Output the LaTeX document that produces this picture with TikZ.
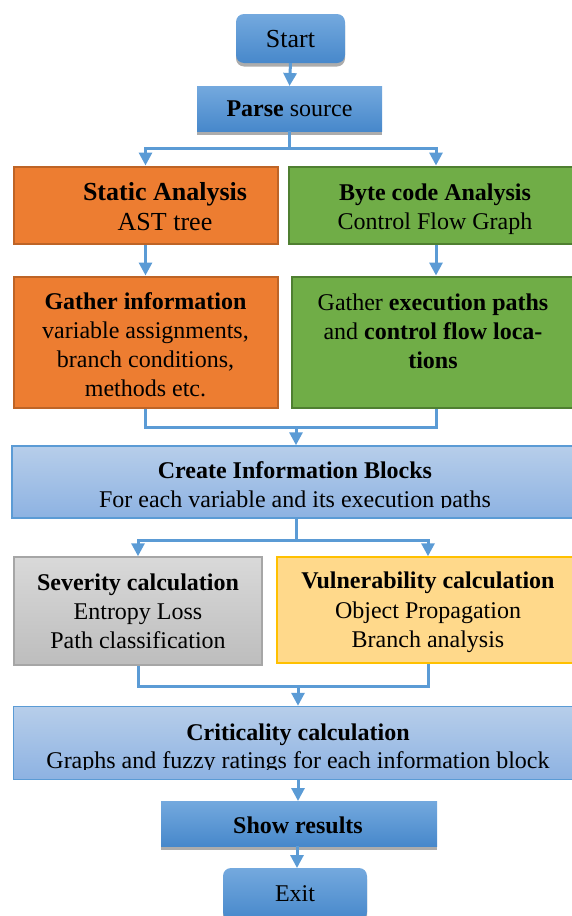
\documentclass[tikz,border=0pt]{standalone}
\usepackage{fontspec}
\setmainfont{Liberation Serif}
\usetikzlibrary{arrows.meta,shadows,calc}
\definecolor{arrblue}{HTML}{5B9BD5}
\definecolor{btop}{HTML}{74A9DE}
\definecolor{bbot}{HTML}{4788CB}
\definecolor{ltop}{HTML}{B7CEEA}
\definecolor{lbot}{HTML}{8DB2E2}
\definecolor{orfill}{HTML}{ED7D31}
\definecolor{ordraw}{HTML}{BE6426}
\definecolor{grfill}{HTML}{70AD47}
\definecolor{grdraw}{HTML}{4F7F31}
\definecolor{gytop}{HTML}{D9D9D9}
\definecolor{gybot}{HTML}{BDBDBD}
\definecolor{gydraw}{HTML}{A6A6A6}
\definecolor{yefill}{HTML}{FFD98B}
\definecolor{yedraw}{HTML}{FFC000}
\tikzset{
  txt/.style={font=\fontsize{24}{29}\selectfont, align=center, inner sep=0pt},
  darkbox/.style={shading=axis, top color=btop, bottom color=bbot, draw=none,
    drop shadow={shadow xshift=0pt, shadow yshift=-3.5pt, fill=gray!65, opacity=1}},
  lightbox/.style={shading=axis, top color=ltop, bottom color=lbot, draw=arrblue, line width=1.5pt},
  orbox/.style={fill=orfill, draw=ordraw, line width=2pt},
  grbox/.style={fill=grfill, draw=grdraw, line width=2pt},
  gybox/.style={shading=axis, top color=gytop, bottom color=gybot, draw=gydraw, line width=1.5pt},
  yebox/.style={fill=yefill, draw=yedraw, line width=1.5pt},
  arr/.style={draw=arrblue, line width=3pt, -{Triangle[width=13pt,length=13pt]}},
  ln/.style={draw=arrblue, line width=3pt},
}
\begin{document}
\begin{tikzpicture}[x=1pt,y=-1pt]
\useasboundingbox (0,0) rectangle (572,916);
% Start
\path[darkbox, rounded corners=8pt] (236,14) rectangle (345,63);
\node[txt, font=\fontsize{26}{30}\selectfont] (start) at (290.5,39) {Start};
\coordinate (startS) at (290.5,63);
% Parse
\path[darkbox] (197,86) rectangle (382,131);
\node[txt] (parse) at (289.5,109) {\textbf{Parse} source};
\coordinate (parseN) at (289.5,86);
\coordinate (parseS) at (289.5,131);
% Static / Byte
\node[orbox, minimum width=264pt, minimum height=77pt, inner sep=0pt] (sa) at (145.5,205) {};
\node[txt, font=\fontsize{26}{29.5}\selectfont] (satext) at (165,206.5) {\textbf{Static Analysis}\\AST tree};
\node[grbox, minimum width=286pt, minimum height=77pt, inner sep=0pt] (bc) at (432,205) {};
\node[txt] (bctext) at (435,209.5) {\textbf{Byte code Analysis}\\Control Flow Graph};
% Gather
\node[orbox, minimum width=264pt, minimum height=131pt, inner sep=0pt] (gi) at (145.5,342) {};
\node[txt] (gitext) at (145.5,344.5) {\textbf{Gather information}\\variable assignments,\\branch conditions,\\methods etc.};
\node[grbox, minimum width=284pt, minimum height=131pt, inner sep=0pt] (ge) at (434,342) {};
\node[txt] (getext) at (433,345.5) {Gather \textbf{execution paths}\\and \textbf{control flow loca-}\\\textbf{tions}\\\mbox{}};
% Create information blocks
\node[lightbox, minimum width=568pt, minimum height=72pt, inner sep=0pt] (cib) at (296,482) {};
\begin{scope}
\clip (0,440) rectangle (572,507.5);
\node[txt] (cibtext) at (295,487) {\textbf{Create Information Blocks}\\For each variable and its execution paths};
\end{scope}
% Severity / Vulnerability
\node[gybox, minimum width=248pt, minimum height=108pt, inner sep=0pt] (sev) at (138,611) {};
\node[txt] (sevtext) at (138,611.5) {\textbf{Severity calculation}\\Entropy Loss\\Path classification};
\node[yebox, minimum width=298pt, minimum height=106pt, inner sep=0pt] (vul) at (426,610) {};
\node[txt, font=\fontsize{24}{29.5}\selectfont] (vultext) at (428,612.5) {\textbf{Vulnerability calculation}\\Object Propagation\\Branch analysis};
% Criticality
\node[lightbox, minimum width=565pt, minimum height=73pt, inner sep=0pt] (crit) at (296,743) {};
\begin{scope}
\clip (0,700) rectangle (572,769);
\node[txt, font=\fontsize{24}{28}\selectfont] (crittext) at (298,749) {\textbf{Criticality calculation}\\Graphs and fuzzy ratings for each information block};
\end{scope}
% Show results
\path[darkbox] (161,801) rectangle (437,846);
\node[txt] (show) at (298,825) {\textbf{Show results}};
\coordinate (showN) at (298,801);
\coordinate (showS) at (297,846);
% Exit
\path[darkbox, rounded corners=8pt] (223,868) rectangle (367,920);
\node[txt] (exit) at (295,893.5) {Exit};
\coordinate (exitN) at (297,868);
% connectors
\draw[arr] (startS) -- (parseN);
\draw[ln] (parseS) -- (289.5,148) coordinate (split1);
\draw[arr] (split1) -| (sa.north);
\draw[arr] (split1) -| ([xshift=4pt]bc.north);
\draw[arr] (sa.south) -- (gi.north);
\draw[arr] ([xshift=4pt]bc.south) -- ([xshift=2pt]ge.north);
\draw[ln] (gi.south) |- (296,427) coordinate (join1);
\draw[ln] ([xshift=2pt]ge.south) |- (join1);
\draw[arr] (join1) -- (cib.north -| join1);
\draw[ln] (cib.south -| 296,0) -- (296,540) coordinate (split2);
\draw[arr] (split2) -| (sev.north);
\draw[arr] (split2) -| ([xshift=2pt]vul.north);
\draw[ln] (sev.south) |- (298,686) coordinate (join2);
\draw[ln] ([xshift=2pt]vul.south) |- (join2);
\draw[arr] (join2) -- (crit.north -| join2);
\draw[arr] (crit.south -| showN) -- (showN);
\draw[arr] (showS) -- (exitN);
\end{tikzpicture}
\end{document}
